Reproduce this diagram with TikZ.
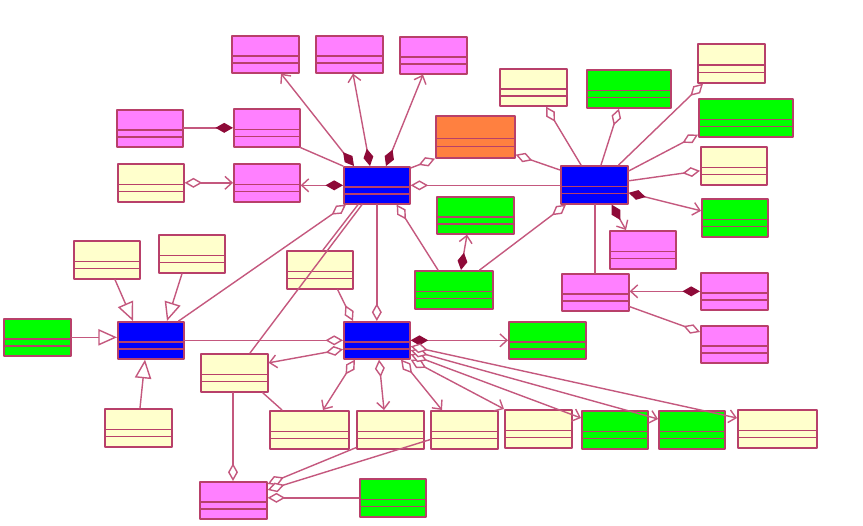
\documentclass[tikz,border=0pt]{standalone}
\usepackage{tikz}
\usetikzlibrary{arrows.meta}
\usetikzlibrary{calc}
\usetikzlibrary{positioning}
\definecolor{uml-pink}{HTML}{FF80FF}
\definecolor{uml-cream}{HTML}{FFFFCC}
\definecolor{uml-green}{HTML}{00FF00}
\definecolor{uml-blue}{HTML}{0000FF}
\definecolor{uml-orange}{HTML}{FF8040}
\definecolor{uml-edge}{HTML}{B8406A}
\definecolor{uml-link}{HTML}{C4587E}
\definecolor{uml-wine}{HTML}{8E0A38}

\begin{document}
\begin{tikzpicture}[x=0.03cm, y=-0.03cm, line cap=round, line join=round,
    classbox/.style 2 args={draw=uml-edge, line width=1.4pt, anchor=north west, inner sep=0pt,
      minimum width=#1*0.03cm, minimum height=#2*0.03cm,
      path picture={
        \draw[uml-edge, line width=1.3pt]
          ($(path picture bounding box.north west)!0.54!(path picture bounding box.south west)$) --
          ($(path picture bounding box.north east)!0.54!(path picture bounding box.south east)$)
          ($(path picture bounding box.north west)!0.73!(path picture bounding box.south west)$) --
          ($(path picture bounding box.north east)!0.73!(path picture bounding box.south east)$);}},
    link/.style={draw=uml-link, line width=1.2pt},
    aggr/.style={link, {Diamond[fill=white, length=15pt, width=8.5pt]}-},
    aggrnav/.style={link, {Diamond[fill=white, length=15pt, width=8.5pt]}-{Straight Barb[length=6pt, width=11pt]}},
    compo/.style={link, {Diamond[fill=uml-wine, color=uml-wine, length=15pt, width=8.5pt]}-},
    compnav/.style={link, {Diamond[fill=uml-wine, color=uml-wine, length=15pt, width=8.5pt]}-{Straight Barb[length=6pt, width=11pt]}},
    inherit/.style={link, -{Triangle[fill=white, length=16pt, width=14pt]}}]

    % frame
    \useasboundingbox (0,0) rectangle (863,525);

    % classes round the upper hub
    \node[classbox={67}{37}, fill=uml-pink] (m1) at (231,35) {};
    \node[classbox={67}{37}, fill=uml-pink] (m2) at (315,35) {};
    \node[classbox={67}{37}, fill=uml-pink] (m3) at (399,36) {};
    \node[classbox={66}{37}, fill=uml-pink] (m4) at (116,109) {};
    \node[classbox={66}{38}, fill=uml-pink] (m5) at (233,108) {};
    \node[classbox={66}{38}, fill=uml-cream] (y1) at (117,163) {};
    \node[classbox={66}{38}, fill=uml-pink] (m6) at (233,163) {};
    \node[classbox={66}{37}, fill=uml-blue] (b1) at (343,166) {};
    \node[classbox={79}{42}, fill=uml-orange] (o1) at (435,115) {};
    \node[classbox={77}{37}, fill=uml-green] (g5) at (436,196) {};
    \node[classbox={78}{38}, fill=uml-green] (g6) at (414,270) {};
    \node[classbox={66}{38}, fill=uml-cream] (y5) at (286,250) {};

    % classes round the right hub
    \node[classbox={67}{37}, fill=uml-cream] (y2) at (499,68) {};
    \node[classbox={84}{38}, fill=uml-green] (g1) at (586,69) {};
    \node[classbox={67}{39}, fill=uml-cream] (y3) at (697,43) {};
    \node[classbox={94}{38}, fill=uml-green] (g2) at (698,98) {};
    \node[classbox={66}{38}, fill=uml-cream] (y4) at (700,146) {};
    \node[classbox={66}{38}, fill=uml-green] (g3) at (701,198) {};
    \node[classbox={67}{38}, fill=uml-blue] (b2) at (560,165) {};
    \node[classbox={66}{38}, fill=uml-pink] (m7) at (609,230) {};
    \node[classbox={67}{37}, fill=uml-pink] (m8) at (561,273) {};
    \node[classbox={67}{37}, fill=uml-pink] (m9) at (700,272) {};
    \node[classbox={67}{37}, fill=uml-pink] (m10) at (700,325) {};

    % classes round the left hub
    \node[classbox={66}{38}, fill=uml-cream] (y6) at (73,240) {};
    \node[classbox={66}{38}, fill=uml-cream] (y7) at (158,234) {};
    \node[classbox={67}{37}, fill=uml-green] (g7) at (3,318) {};
    \node[classbox={66}{37}, fill=uml-blue] (b4) at (117,321) {};
    \node[classbox={67}{38}, fill=uml-cream] (y9) at (104,408) {};

    % classes round the lower hub
    \node[classbox={66}{37}, fill=uml-blue] (b3) at (343,321) {};
    \node[classbox={77}{37}, fill=uml-green] (g4) at (508,321) {};
    \node[classbox={67}{38}, fill=uml-cream] (y8) at (200,353) {};
    \node[classbox={79}{38}, fill=uml-cream] (r1) at (269,410) {};
    \node[classbox={67}{38}, fill=uml-cream] (r2) at (356,410) {};
    \node[classbox={67}{38}, fill=uml-cream] (r3) at (430,410) {};
    \node[classbox={67}{38}, fill=uml-cream] (r4) at (504,409) {};
    \node[classbox={66}{38}, fill=uml-green] (g8) at (581,410) {};
    \node[classbox={66}{38}, fill=uml-green] (g9) at (658,410) {};
    \node[classbox={79}{38}, fill=uml-cream] (r5) at (737,409) {};
    \node[classbox={67}{37}, fill=uml-pink] (m11) at (199,481) {};
    \node[classbox={66}{38}, fill=uml-green] (g10) at (359,478) {};

    % upper hub
    \draw[compnav] ($(b1.north west)+(11,0)$) -- ($(m1.south west)+(50,0)$);
    \draw[compnav] ($(b1.north west)+(27,0)$) -- ($(m2.south west)+(38,0)$);
    \draw[compnav] ($(b1.north west)+(43,0)$) -- ($(m3.south west)+(24,0)$);
    \draw[compo] (m5.west) -- (m5.west -| m4.east);
    \draw[aggrnav] (y1.east) -- (y1.east -| m6.west);
    \draw[compnav] (b1.west) -- (b1.west -| m6.east);
    \draw[link] (m5.south east) -- (b1.north west);
    \draw[aggr] (o1.south west) -- ($(b1.north east)+(0,2)$);
    \draw[aggr] (b1.east) -- (b1.east -| b2.west);
    \draw[aggr] ($(o1.south east)+(0,-4)$) -- ($(b2.north west)+(0,5)$);
    \draw[aggr] ($(b1.south east)+(-14,0)$) -- ($(g6.north west)+(24,0)$);
    \draw[compnav] ($(g6.north west)+(47,0)$) -- ($(g5.south west)+(31,0)$);
    \draw[aggr] ($(b1.south west)+(3,0)$) -- ($(b4.north east)+(-6,0)$);
    \draw[link] ($(b1.south west)+(15,0)$) -- ($(y5.north west)+(37,0)$);
    \draw[link] ($(b1.south west)+(19,0)$) -- ($(y8.north west)+(50,0)$);
    \draw[aggr] (b3.north) -- (b1.south);
    \draw[aggr] ($(b3.north west)+(10,0)$) -- ($(y5.south east)+(-16,0)$);

    % right hub
    \draw[aggr] ($(y2.south west)+(47,0)$) -- ($(b2.north west)+(21,0)$);
    \draw[aggr] ($(g1.south west)+(33,0)$) -- ($(b2.north west)+(41,0)$);
    \draw[aggr] ($(y3.south west)+(6,0)$) -- ($(b2.north east)+(-10,0)$);
    \draw[aggr] ($(g2.south west)+(0,-3)$) -- ($(b2.north east)+(0,6)$);
    \draw[aggr] ($(y4.west)+(0,5)$) -- ($(b2.east)+(0,-4)$);
    \draw[compnav] ($(b2.east)+(0,8)$) -- ($(g3.west)+(0,-7)$);
    \draw[compnav] ($(b2.south east)+(-17,0)$) -- ($(m7.north west)+(17,0)$);
    \draw[aggr] ($(b2.south west)+(6,0)$) -- ($(g6.north east)+(-14,0)$);
    \draw[link] ($(b2.south west)+(35,0)$) -- ($(m8.north west)+(34,0)$);
    \draw[compnav] (m9.west) -- (m9.west -| m8.east);
    \draw[aggr] ($(m10.north west)+(0,7)$) -- ($(m8.south east)+(0,-5)$);

    % left hub
    \draw[inherit] ($(y6.south west)+(42,0)$) -- ($(b4.north west)+(16,0)$);
    \draw[inherit] ($(y7.south west)+(24,0)$) -- ($(b4.north west)+(50,0)$);
    \draw[inherit] (g7.east) -- (g7.east -| b4.west);
    \draw[inherit] ($(y9.north west)+(36,0)$) -- ($(b4.south west)+(28,0)$);
    \draw[aggr] (b3.west) -- (b4.east);

    % lower hub
    \draw[aggrnav] ($(b3.west)+(0,9)$) -- ($(y8.east)+(0,-10)$);
    \draw[compnav] (b3.east) -- (b3.east -| g4.west);
    \draw[aggrnav] ($(b3.south west)+(12,0)$) -- ($(r1.north west)+(54,0)$);
    \draw[aggrnav] ($(b3.south west)+(36,0)$) -- ($(r2.north west)+(28,0)$);
    \draw[aggrnav] ($(b3.south west)+(58,0)$) -- ($(r3.north west)+(12,0)$);
    \draw[aggrnav] (b3.south east) -- (r4.north west);
    \draw[aggrnav] ($(b3.east)+(0,14)$) -- ($(g8.north west)+(0,8)$);
    \draw[aggrnav] ($(b3.east)+(0,10)$) -- ($(g9.north west)+(0,9)$);
    \draw[aggrnav] ($(b3.east)+(0,6)$) -- ($(r5.north west)+(0,9)$);
    \draw[aggr] ($(m11.north west)+(34,0)$) -- ($(y8.south west)+(33,0)$);
    \draw[link] ($(y8.south east)+(-6,0)$) -- ($(r1.north west)+(13,0)$);
    \draw[aggr] ($(m11.north east)+(0,3)$) -- ($(r2.south west)+(0,-2)$);
    \draw[aggr] ($(m11.north east)+(0,9)$) -- ($(r3.south west)+(0,-10)$);
    \draw[aggr] (g10.west -| m11.east) -- (g10.west);

\end{tikzpicture}
\end{document}
